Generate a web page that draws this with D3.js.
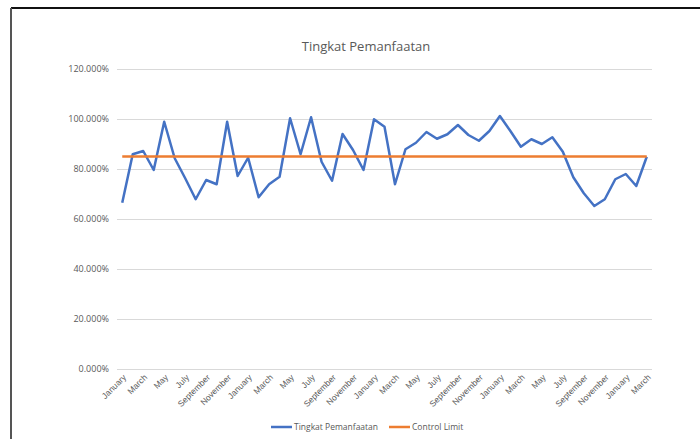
<!DOCTYPE html>
<html>
<head>
<meta charset="utf-8">
<script src="https://cdn.jsdelivr.net/npm/d3@7"></script>
<style>
  body { margin: 0; background: #fff; }
  svg { display: block; font-family: "Open Sans", "Noto Sans", sans-serif; }
</style>
</head>
<body>
<div id="root"></div>
<script>
// Jan (year 1) .. Mar (year 5), 51 months
var categories = [
  'January', 'February', 'March', 'April', 'May', 'June', 'July', 'August', 'September', 'October', 'November', 'December',
  'January', 'February', 'March', 'April', 'May', 'June', 'July', 'August', 'September', 'October', 'November', 'December',
  'January', 'February', 'March', 'April', 'May', 'June', 'July', 'August', 'September', 'October', 'November', 'December',
  'January', 'February', 'March', 'April', 'May', 'June', 'July', 'August', 'September', 'October', 'November', 'December',
  'January', 'February', 'March'
];

var pemanfaatan = [
  0.665, 0.859, 0.872, 0.796, 0.989, 0.843, 0.763, 0.679, 0.756, 0.739, 0.989, 0.772,
  0.845, 0.687, 0.739, 0.769, 1.003, 0.859, 1.007, 0.829, 0.753, 0.940, 0.876, 0.796,
  0.999, 0.969, 0.739, 0.879, 0.905, 0.948, 0.921, 0.939, 0.976, 0.936, 0.913, 0.952,
  1.012, 0.952, 0.889, 0.919, 0.900, 0.927, 0.869, 0.767, 0.703, 0.652, 0.679, 0.759,
  0.780, 0.732, 0.849
];

var controlLimit = 0.85;

var yTicks = [0, 0.2, 0.4, 0.6, 0.8, 1.0, 1.2];

var w = 700, h = 439;
var plotLeft = 117, plotRight = 652, plotTop = 69, plotBottom = 369;

var svg = d3.select('#root').append('svg').attr('width', w).attr('height', h);

// frame
svg.append('line').attr('x1', 11).attr('x2', 700).attr('y1', 8).attr('y2', 8)
  .attr('stroke', '#111').attr('stroke-width', 2);
svg.append('line').attr('x1', 11).attr('x2', 11).attr('y1', 8).attr('y2', 439)
  .attr('stroke', '#555').attr('stroke-width', 2);

var x = d3.scalePoint()
  .domain(d3.range(categories.length))
  .range([plotLeft, plotRight])
  .padding(0.5);

var y = d3.scaleLinear().domain([0, 1.2]).range([plotBottom, plotTop]);

// y axis + gridlines
var yAxis = svg.append('g')
  .attr('transform', 'translate(' + plotLeft + ',0)')
  .call(d3.axisLeft(y).tickValues(yTicks).tickFormat(d3.format('.3%'))
    .tickSize(-(plotRight - plotLeft)).tickPadding(8));
yAxis.select('.domain').remove();
yAxis.selectAll('line').attr('stroke', '#d9d9d9').attr('stroke-width', 1);
yAxis.selectAll('text').attr('fill', '#595959').style('font-size', '9px')
  .style('font-family', '"Open Sans", sans-serif');

// x axis labels, every other month
var xAxis = svg.append('g')
  .attr('transform', 'translate(0,' + plotBottom + ')')
  .call(d3.axisBottom(x)
    .tickValues(d3.range(0, categories.length, 2))
    .tickFormat(function (i) { return categories[i]; })
    .tickSize(0));
xAxis.select('.domain').remove();
xAxis.selectAll('text')
  .attr('fill', '#595959')
  .style('font-size', '8.5px')
  .attr('text-anchor', 'end')
  .attr('dy', null)
  .attr('y', null)
  .attr('transform', 'translate(4,9) rotate(-45)');

// series
var line = d3.line()
  .x(function (d, i) { return x(i); })
  .y(function (d) { return y(d); });

svg.append('path')
  .datum(pemanfaatan)
  .attr('fill', 'none')
  .attr('stroke', '#4472C4')
  .attr('stroke-width', 2.5)
  .attr('stroke-linejoin', 'round')
  .attr('d', line);

svg.append('path')
  .datum(categories.map(function () { return controlLimit; }))
  .attr('fill', 'none')
  .attr('stroke', '#ED7D31')
  .attr('stroke-width', 2.5)
  .attr('d', line);

// title
svg.append('text')
  .attr('x', 366).attr('y', 51)
  .attr('text-anchor', 'middle')
  .attr('fill', '#595959')
  .style('font-size', '13px')
  .text('Tingkat Pemanfaatan');

// legend
var legend = [
  { name: 'Tingkat Pemanfaatan', color: '#4472C4', x: 271 },
  { name: 'Control Limit', color: '#ED7D31', x: 389 }
];
var lg = svg.selectAll('.legend')
  .data(legend)
  .enter()
  .append('g')
  .attr('class', 'legend')
  .attr('transform', function (d) { return 'translate(' + d.x + ',427)'; });
lg.append('line')
  .attr('x1', 0).attr('x2', 21)
  .attr('stroke', function (d) { return d.color; })
  .attr('stroke-width', 2.5);
lg.append('text')
  .attr('x', 23).attr('y', 3)
  .attr('fill', '#595959')
  .style('font-size', '8.5px')
  .text(function (d) { return d.name; });
</script>
</body>
</html>
